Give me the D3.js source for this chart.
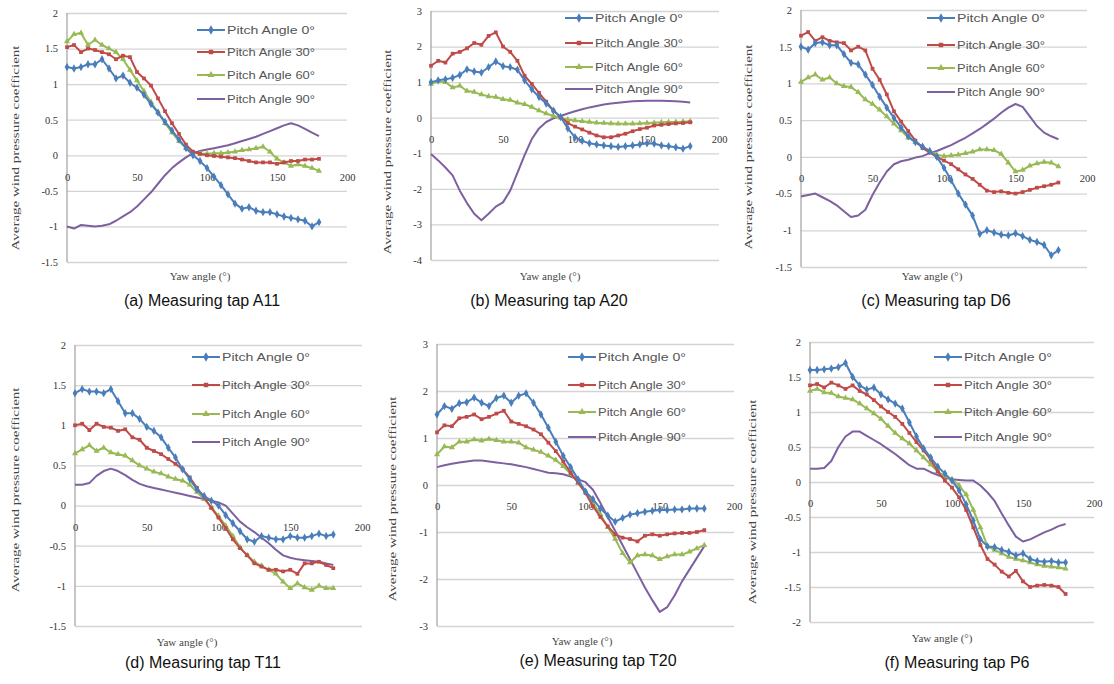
<!DOCTYPE html>
<html><head><meta charset="utf-8">
<script src="https://cdn.jsdelivr.net/npm/d3@7"></script>
<style>body{margin:0;background:#fff}svg{display:block}</style>
</head><body>
<svg id="c" width="1114" height="684"></svg>
<script>
// ---------- DATA ----------
const yaw = [0,5,10,15,20,25,30,35,40,45,50,55,60,65,70,75,80,85,90,95,100,105,110,115,120,125,130,135,140,145,150,155,160,165,170,175,180];
const seriesNames = ["Pitch Angle 0°","Pitch Angle 30°","Pitch Angle 60°","Pitch Angle 90°"];
const captions = ["(a) Measuring tap A11","(b) Measuring tap A20","(c) Measuring tap D6","(d) Measuring tap T11","(e) Measuring tap T20","(f) Measuring tap P6"];
const xTitle = "Yaw angle (°)";
const yTitle = "Average wind pressure coefficient";
const xTicks = [0,50,100,150,200];

// (a) A11
const a_p0  = [1.24,1.22,1.24,1.28,1.28,1.35,1.22,1.08,1.12,1.02,0.95,0.85,0.72,0.6,0.47,0.35,0.22,0.1,0.0,-0.08,-0.18,-0.3,-0.42,-0.55,-0.68,-0.75,-0.73,-0.78,-0.8,-0.8,-0.83,-0.86,-0.88,-0.9,-0.92,-1.0,-0.94];
const a_p30 = [1.52,1.55,1.45,1.5,1.48,1.45,1.42,1.35,1.4,1.38,1.17,1.08,0.98,0.8,0.62,0.45,0.3,0.15,0.05,0.02,0.0,-0.01,-0.02,-0.03,-0.04,-0.06,-0.08,-0.1,-0.1,-0.1,-0.12,-0.1,-0.08,-0.08,-0.06,-0.06,-0.05];
const a_p60 = [1.6,1.7,1.72,1.55,1.62,1.55,1.5,1.45,1.35,1.2,1.05,0.9,0.75,0.6,0.45,0.32,0.2,0.1,0.04,0.02,0.02,0.03,0.03,0.04,0.05,0.07,0.08,0.1,0.12,0.05,-0.05,-0.1,-0.15,-0.13,-0.15,-0.18,-0.22];
const a_p90 = [-1.0,-1.03,-0.98,-0.99,-1.0,-0.99,-0.97,-0.92,-0.86,-0.8,-0.72,-0.62,-0.52,-0.4,-0.28,-0.18,-0.1,-0.03,0.03,0.06,0.08,0.1,0.12,0.14,0.17,0.2,0.23,0.26,0.3,0.34,0.38,0.42,0.45,0.42,0.37,0.32,0.27];
// (b) A20
const b_p0  = [1.0,1.05,1.08,1.12,1.2,1.36,1.3,1.27,1.42,1.58,1.45,1.42,1.35,1.05,0.8,0.58,0.4,0.2,0.02,-0.3,-0.55,-0.65,-0.72,-0.75,-0.78,-0.8,-0.82,-0.8,-0.78,-0.75,-0.72,-0.73,-0.78,-0.8,-0.83,-0.87,-0.8];
const b_p30 = [1.46,1.6,1.55,1.8,1.85,1.95,2.1,2.05,2.3,2.4,2.0,1.85,1.6,1.18,0.95,0.7,0.45,0.2,0.02,-0.15,-0.25,-0.33,-0.42,-0.5,-0.55,-0.55,-0.5,-0.45,-0.38,-0.32,-0.28,-0.22,-0.2,-0.18,-0.16,-0.15,-0.13];
const b_p60 = [0.95,1.02,1.0,0.85,0.9,0.75,0.72,0.65,0.6,0.58,0.52,0.5,0.42,0.38,0.3,0.2,0.12,0.05,0.0,-0.05,-0.08,-0.1,-0.12,-0.14,-0.15,-0.16,-0.17,-0.17,-0.17,-0.16,-0.15,-0.14,-0.13,-0.12,-0.12,-0.11,-0.1];
const b_p90 = [-1.02,-1.2,-1.4,-1.62,-2.05,-2.4,-2.7,-2.88,-2.7,-2.5,-2.38,-2.05,-1.55,-1.05,-0.6,-0.3,-0.12,-0.02,0.05,0.12,0.18,0.24,0.29,0.33,0.37,0.4,0.42,0.44,0.46,0.47,0.48,0.48,0.48,0.47,0.46,0.45,0.43];
// (c) D6
const c_p0  = [1.5,1.46,1.55,1.56,1.52,1.52,1.4,1.28,1.26,1.12,0.98,0.82,0.67,0.53,0.4,0.28,0.2,0.14,0.08,0.0,-0.15,-0.32,-0.5,-0.65,-0.8,-1.05,-1.0,-1.03,-1.06,-1.07,-1.04,-1.08,-1.13,-1.16,-1.2,-1.34,-1.27];
const c_p30 = [1.65,1.7,1.58,1.63,1.58,1.56,1.55,1.45,1.5,1.45,1.2,1.05,0.85,0.62,0.48,0.35,0.22,0.12,0.06,0.0,-0.05,-0.1,-0.17,-0.24,-0.3,-0.38,-0.46,-0.48,-0.47,-0.49,-0.5,-0.48,-0.45,-0.42,-0.4,-0.38,-0.35];
const c_p60 = [1.02,1.08,1.12,1.05,1.08,1.0,0.96,0.95,0.88,0.78,0.72,0.64,0.55,0.45,0.36,0.26,0.2,0.14,0.08,0.03,0.01,0.02,0.03,0.05,0.07,0.1,0.1,0.09,0.04,-0.08,-0.2,-0.18,-0.12,-0.09,-0.07,-0.08,-0.13];
const c_p90 = [-0.54,-0.52,-0.5,-0.55,-0.6,-0.66,-0.74,-0.82,-0.8,-0.72,-0.52,-0.35,-0.2,-0.1,-0.06,-0.04,-0.01,0.01,0.05,0.08,0.12,0.16,0.21,0.26,0.32,0.38,0.45,0.52,0.6,0.67,0.72,0.68,0.55,0.42,0.33,0.28,0.24];
// (d) T11
const d_p0  = [1.4,1.45,1.42,1.42,1.4,1.45,1.3,1.15,1.15,1.08,0.98,0.93,0.85,0.72,0.6,0.45,0.33,0.2,0.12,0.06,0.0,-0.12,-0.22,-0.32,-0.42,-0.45,-0.38,-0.4,-0.42,-0.42,-0.38,-0.4,-0.4,-0.38,-0.35,-0.38,-0.36];
const d_p30 = [1.0,1.02,0.94,1.02,0.98,0.97,0.93,0.95,0.85,0.82,0.72,0.68,0.64,0.58,0.52,0.45,0.35,0.22,0.1,-0.03,-0.15,-0.28,-0.42,-0.53,-0.62,-0.72,-0.76,-0.8,-0.8,-0.82,-0.8,-0.85,-0.72,-0.72,-0.7,-0.74,-0.78];
const d_p60 = [0.65,0.7,0.75,0.68,0.72,0.66,0.64,0.62,0.56,0.5,0.46,0.42,0.4,0.36,0.33,0.31,0.26,0.17,0.08,-0.02,-0.13,-0.25,-0.38,-0.52,-0.62,-0.7,-0.75,-0.8,-0.85,-0.95,-1.03,-0.97,-1.02,-1.05,-1.0,-1.03,-1.03];
const d_p90 = [0.26,0.26,0.28,0.37,0.43,0.46,0.43,0.38,0.32,0.27,0.24,0.22,0.2,0.18,0.16,0.14,0.12,0.1,0.08,0.06,0.04,0.0,-0.1,-0.2,-0.27,-0.33,-0.4,-0.47,-0.55,-0.62,-0.65,-0.67,-0.68,-0.69,-0.7,-0.72,-0.74];
// (e) T20
const e_p0  = [1.5,1.68,1.62,1.74,1.76,1.86,1.75,1.68,1.85,1.9,1.75,1.9,1.95,1.75,1.5,1.22,0.92,0.62,0.38,0.12,-0.14,-0.3,-0.5,-0.65,-0.78,-0.7,-0.63,-0.6,-0.57,-0.55,-0.53,-0.53,-0.52,-0.52,-0.5,-0.5,-0.5];
const e_p30 = [1.12,1.27,1.25,1.42,1.45,1.5,1.4,1.45,1.52,1.58,1.35,1.3,1.25,1.18,1.08,0.9,0.72,0.5,0.26,0.05,-0.17,-0.45,-0.68,-0.88,-1.05,-1.12,-1.15,-1.2,-1.08,-1.05,-1.08,-1.05,-1.03,-1.02,-1.02,-1.0,-0.96];
const e_p60 = [0.65,0.82,0.8,0.92,0.92,0.97,0.94,0.98,0.95,0.92,0.92,0.9,0.8,0.75,0.7,0.62,0.53,0.4,0.24,0.05,-0.14,-0.38,-0.62,-0.9,-1.15,-1.45,-1.65,-1.5,-1.48,-1.5,-1.58,-1.52,-1.48,-1.48,-1.42,-1.35,-1.28];
const e_p90 = [0.38,0.42,0.45,0.48,0.5,0.52,0.52,0.5,0.48,0.46,0.44,0.41,0.38,0.34,0.3,0.26,0.25,0.23,0.18,0.12,0.06,-0.1,-0.38,-0.68,-0.98,-1.28,-1.58,-1.88,-2.18,-2.45,-2.7,-2.6,-2.35,-2.05,-1.8,-1.55,-1.3];
// (f) P6
const f_p0  = [1.6,1.6,1.61,1.62,1.64,1.7,1.5,1.38,1.32,1.35,1.25,1.18,1.12,1.05,0.85,0.65,0.48,0.35,0.22,0.12,0.02,-0.12,-0.32,-0.55,-0.82,-0.92,-0.93,-0.97,-1.0,-1.05,-1.02,-1.1,-1.13,-1.14,-1.13,-1.15,-1.15];
const f_p30 = [1.38,1.4,1.35,1.42,1.38,1.33,1.38,1.3,1.25,1.17,1.08,1.0,0.93,0.83,0.7,0.57,0.45,0.32,0.15,0.02,-0.08,-0.22,-0.4,-0.65,-0.9,-1.1,-1.18,-1.28,-1.35,-1.27,-1.42,-1.5,-1.48,-1.47,-1.48,-1.5,-1.6];
const f_p60 = [1.3,1.33,1.28,1.27,1.22,1.2,1.18,1.12,1.05,0.98,0.9,0.8,0.7,0.62,0.55,0.45,0.35,0.25,0.15,0.08,0.04,-0.05,-0.18,-0.4,-0.65,-0.92,-0.97,-1.02,-1.07,-1.1,-1.12,-1.15,-1.18,-1.2,-1.21,-1.22,-1.24];
const f_p90 = [0.19,0.19,0.2,0.3,0.5,0.65,0.72,0.72,0.66,0.6,0.54,0.47,0.4,0.32,0.24,0.19,0.19,0.14,0.1,0.06,0.04,0.03,0.02,0.02,-0.05,-0.15,-0.27,-0.45,-0.62,-0.78,-0.85,-0.82,-0.77,-0.72,-0.68,-0.63,-0.6];

const yTicksA = [2,1.5,1,0.5,0,-0.5,-1,-1.5];
const yTicksB = [3,2,1,0,-1,-2,-3,-4];
const yTicksC = [2,1.5,1,0.5,0,-0.5,-1,-1.5];
const yTicksD = [2,1.5,1,0.5,0,-0.5,-1,-1.5];
const yTicksE = [3,2,1,0,-1,-2,-3];
const yTicksF = [2,1.5,1,0.5,0,-0.5,-1,-1.5,-2];

// ---------- LAYOUT ----------
const colors = ["#4a7ebb","#be4b48","#98b954","#7d60a0"];
const symbols = [d3.symbolDiamond, d3.symbolSquare, d3.symbolTriangle, null];
const symSize = [20, 14, 16, 0];

const panels = [
  {series:[a_p0,a_p30,a_p60,a_p90], ticks:yTicksA, x0:67, x1:347, yT:13, yB:262, lx:197, ly:[30,52,75,99], cap:[202,306], xt:[200,280], yt:[15,148]},
  {series:[b_p0,b_p30,b_p60,b_p90], ticks:yTicksB, x0:431, x1:719, yT:11, yB:260, lx:565, ly:[18,43,67,89], cap:[549,306], xt:[550,280], yt:[387,152]},
  {series:[c_p0,c_p30,c_p60,c_p90], ticks:yTicksC, x0:801, x1:1087, yT:10, yB:267, lx:927, ly:[18,45,68,92], cap:[936,306], xt:[932,280], yt:[748,147]},
  {series:[d_p0,d_p30,d_p60,d_p90], ticks:yTicksD, x0:75, x1:362, yT:345, yB:626, lx:192, ly:[357,385,414,442], cap:[203,668], xt:[187,646], yt:[15,490]},
  {series:[e_p0,e_p30,e_p60,e_p90], ticks:yTicksE, x0:437, x1:734, yT:344, yB:626, lx:568, ly:[357,385,412,437], cap:[598,666], xt:[582,645], yt:[392,499]},
  {series:[f_p0,f_p30,f_p60,f_p90], ticks:yTicksF, x0:810, x1:1094, yT:342, yB:622, lx:934, ly:[357,385,412,437], cap:[957,668], xt:[942,642], yt:[752,502]}
];

const svg = d3.select("#c");
const tickFont = "'Liberation Serif', 'DejaVu Serif', serif";

panels.forEach((p, i) => {
  const g = svg.append("g");
  const yDom = d3.extent(p.ticks);
  const x = d3.scaleLinear().domain([0,200]).range([p.x0, p.x1]);
  const y = d3.scaleLinear().domain(yDom).range([p.yB, p.yT]);

  // gridlines
  g.append("g").call(d3.axisLeft(y).tickValues(p.ticks).tickSize(-(p.x1-p.x0)).tickFormat(""))
    .attr("transform", `translate(${p.x0},0)`)
    .call(s => s.select(".domain").remove())
    .call(s => s.selectAll("line").attr("stroke","#d4d4d4").attr("stroke-width",1.3));

  // vertical axis line
  g.append("line").attr("x1",p.x0).attr("x2",p.x0).attr("y1",p.yT).attr("y2",p.yB)
    .attr("stroke","#a0a0a0").attr("stroke-width",1.2);

  // y tick labels
  const yAx = g.append("g").attr("transform", `translate(${p.x0},0)`)
    .call(d3.axisLeft(y).tickValues(p.ticks).tickSize(0).tickPadding(9).tickFormat(d => String(d)));
  yAx.select(".domain").remove();
  yAx.selectAll("text").attr("font-family", tickFont).attr("font-size", 10.5).attr("fill","#333");

  // x tick labels, placed below the zero line
  const xAx = g.append("g").attr("transform", `translate(0,${y(0)})`)
    .call(d3.axisBottom(x).tickValues(xTicks).tickSize(0).tickPadding(18).tickFormat(d => String(d)));
  xAx.select(".domain").remove();
  xAx.selectAll("text").attr("font-family", tickFont).attr("font-size", 10.5).attr("fill","#333");

  // series lines (draw purple first, then green, red, blue on top)
  const line = d3.line().x((d,k) => x(yaw[k])).y(d => y(d));
  [3,2,1,0].forEach(s => {
    g.append("path").datum(p.series[s]).attr("d", line)
      .attr("fill","none").attr("stroke",colors[s]).attr("stroke-width",2).attr("stroke-linejoin","round");
    if (symbols[s]) {
      g.append("g").selectAll("path").data(p.series[s]).join("path")
        .attr("transform",(d,k) => `translate(${x(yaw[k])},${y(d)})`)
        .attr("d", d3.symbol().type(symbols[s]).size(symSize[s])())
        .attr("fill", colors[s]);
    }
  });

  // legend
  seriesNames.forEach((name, s) => {
    const ly = p.ly[s];
    g.append("line").attr("x1",p.lx).attr("x2",p.lx+28).attr("y1",ly).attr("y2",ly)
      .attr("stroke",colors[s]).attr("stroke-width",2);
    if (symbols[s]) {
      g.append("path").attr("transform",`translate(${p.lx+14},${ly})`)
        .attr("d", d3.symbol().type(symbols[s]).size(symSize[s]+6)()).attr("fill",colors[s]);
    }
    g.append("text").attr("x",p.lx+30).attr("y",ly).attr("dy","0.35em")
      .attr("font-family","'Liberation Sans', Arial, sans-serif").attr("font-size",10)
      .attr("fill","#555").attr("textLength", 88).attr("lengthAdjust","spacingAndGlyphs").text(name);
  });

  // axis titles
  g.append("text").attr("x",p.xt[0]).attr("y",p.xt[1]).attr("text-anchor","middle")
    .attr("font-family",tickFont).attr("font-size",11).attr("fill","#444").text(xTitle);
  g.append("text").attr("transform",`translate(${p.yt[0]},${p.yt[1]}) rotate(-90)`)
    .attr("text-anchor","middle").attr("dy","0.35em")
    .attr("font-family",tickFont).attr("font-size",11).attr("fill","#444")
    .attr("textLength",205).attr("lengthAdjust","spacingAndGlyphs").text(yTitle);

  // caption
  g.append("text").attr("x",p.cap[0]).attr("y",p.cap[1]).attr("text-anchor","middle")
    .attr("font-family","'Liberation Sans', Arial, sans-serif").attr("font-size",16)
    .attr("fill","#111").text(captions[i]);
});
</script>
</body></html>
